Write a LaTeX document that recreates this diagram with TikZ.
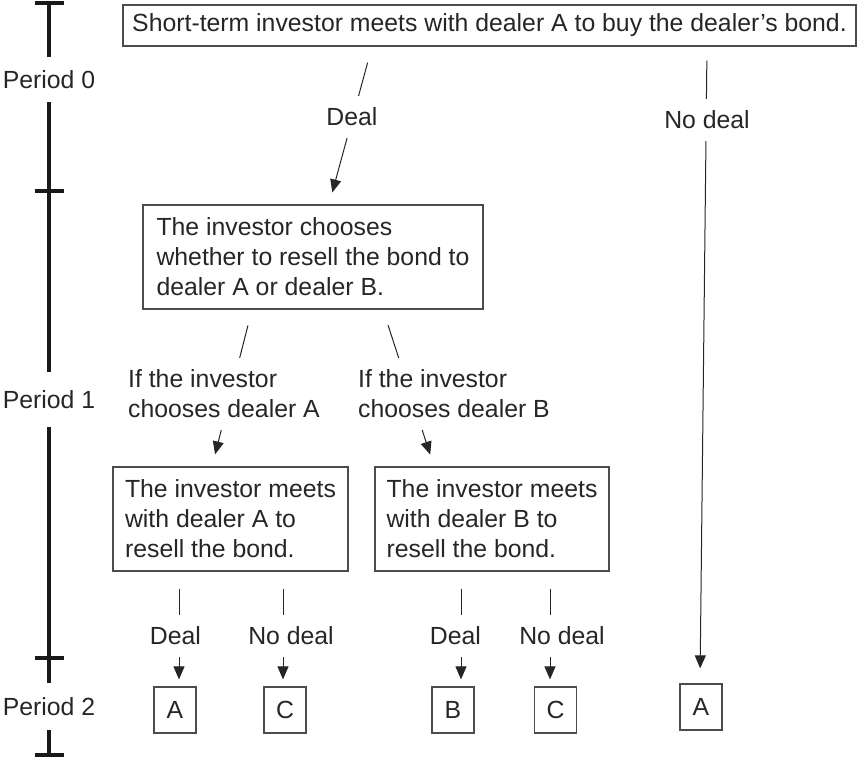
\documentclass[tikz,border=0pt]{standalone}
\usepackage{fontspec}
\setmainfont{Liberation Sans}
\usetikzlibrary{arrows.meta,positioning}

\begin{document}
\begin{tikzpicture}[x=0.5pt,y=-0.5pt,>={Triangle[length=6.5pt,width=5.5pt]},
  font=\fontsize{12.4}{15}\selectfont,text=black!85]
\tikzstyle{box}=[draw=black!70,line width=0.6pt,align=left,inner sep=0pt,minimum height=52pt]
\tikzstyle{res}=[draw=black!70,line width=0.6pt,minimum width=21pt,minimum height=23pt,inner sep=0pt]
\tikzstyle{lbl}=[fill=white,inner xsep=1pt,inner ysep=6pt,align=left]
\tikzstyle{arr}=[->,line width=0.5pt,black!85]
\tikzstyle{tl}=[line width=2pt,black!90]
\tikzstyle{per}=[inner sep=0pt]
\useasboundingbox (0,0) rectangle (858,760);
% time line
\coordinate (t0) at (49,3);
\coordinate (t1) at (49,191);
\coordinate (t2) at (49,658);
\coordinate (t3) at (49,755);
\node[per,minimum height=22.5pt] (p0) at (49,79.5) {Period 0};
\node[per,minimum height=27.5pt] (p1) at (49,399.5) {Period 1};
\node[per,minimum height=23.5pt] (p2) at (49,706.5) {Period 2};
\draw[tl] (t0) -- (p0);
\draw[tl] (p0) -- (t1) -- (p1);
\draw[tl] (p1) -- (t2) -- (p2);
\draw[tl] (p2) -- (t3);
\foreach \t in {t0,t1,t2,t3}
  \draw[tl] ([xshift=-7.25pt]\t) -- ([xshift=7.25pt]\t);
% boxes
\node[box,minimum width=366.5pt,minimum height=20.5pt,align=center] (meet0) at (489.5,25.5)
  {Short-term investor meets with dealer A to buy the dealer’s bond.};
\node[box,minimum width=170pt] (choose) at (313,257)
  {The investor chooses\\whether to resell the bond to\\dealer A or dealer B.};
\node[box,minimum width=117.5pt] (meetA) at (230.5,519)
  {The investor meets\\with dealer A to\\resell the bond.};
\node[box,minimum width=117pt] (meetB) at (492,519)
  {The investor meets\\with dealer B to\\resell the bond.};
\node[res] (endA) at (175,710) {A};
\node[res] (endC1) at (285,710) {C};
\node[res] (endB) at (453,710) {B};
\node[res] (endC2) at (555.5,710) {C};
\node[res] (endA2) at (701,707) {A};
% connectors
\draw[arr,shorten <=8.3pt,shorten >=6.2pt] (meet0.south -| 372,0) -- (choose.north -| 329,0);
\draw[arr,shorten <=7pt,shorten >=7.5pt] (meet0.south -| 707,0) -- (endA2.north -| 700,0);
\draw[arr,shorten <=8.2pt,shorten >=6.2pt] (choose.south -| 252,0) -- (meetA.north -| 212,0);
\draw[arr,shorten <=8.2pt,shorten >=6.2pt] (choose.south -| 383,0) -- (meetB.north -| 434,0);
\foreach \s/\e/\x in {meetA/endA/179,meetA/endC1/283,meetB/endB/461,meetB/endC2/550}
  \draw[arr,shorten <=8.5pt,shorten >=3.5pt] (\s.south -| \x,0) -- (\e.north -| \x,0);
% labels
\node[lbl] (ldeal) at (352,117) {Deal};
\node[lbl] (lnodeal) at (707,120) {No deal};
\node[lbl] (lchA) at (224,394) {If the investor\\chooses dealer A};
\node[lbl] (lchB) at (454,394) {If the investor\\chooses dealer B};
\foreach \x/\t [count=\i] in {175.5/Deal,291/No deal,455.5/Deal,562/No deal}
  \node[lbl] (lend\i) at (\x,636) {\t};
\end{tikzpicture}
\end{document}
